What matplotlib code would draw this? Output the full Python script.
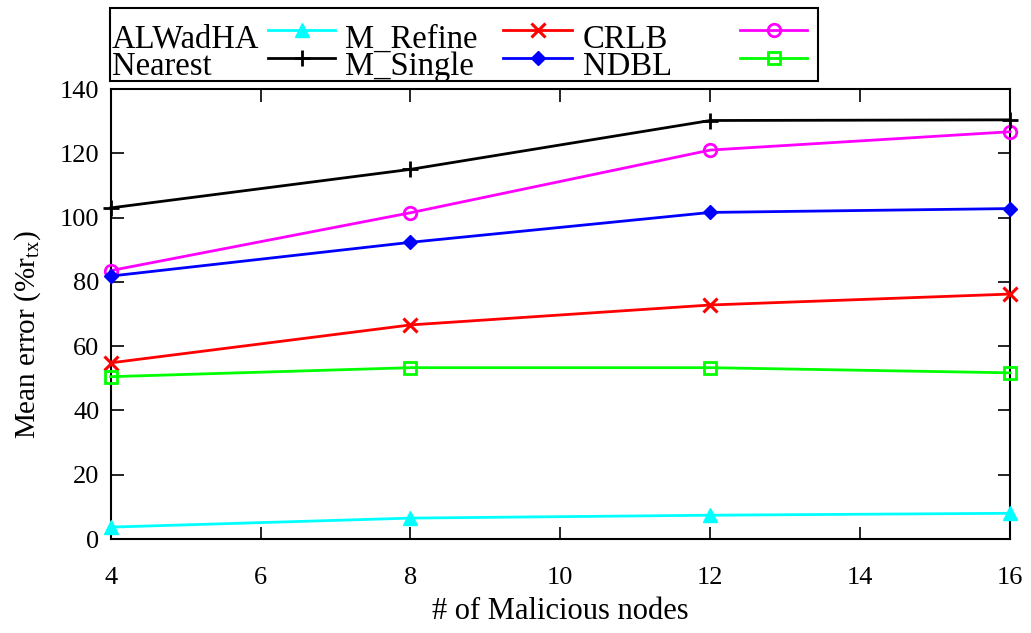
import matplotlib
matplotlib.use('Agg')
import matplotlib.pyplot as plt
from matplotlib.lines import Line2D
import numpy as np

plt.rcParams['font.family'] = ['Liberation Serif', 'DejaVu Serif']
plt.rcParams['mathtext.fontset'] = 'custom'
plt.rcParams['mathtext.rm'] = 'Liberation Serif'

# data
nodes = [4, 8, 12, 16]
m_refine = [3.7, 6.5, 7.4, 8.0]
m_single = [103.0, 115.0, 130.2, 130.4]
crlb = [54.8, 66.6, 72.8, 76.2]
ndbl = [81.8, 92.3, 101.6, 102.8]
alwadha = [83.5, 101.5, 121.0, 126.7]
nearest = [50.5, 53.3, 53.3, 51.7]

xticks = [4, 6, 8, 10, 12, 14, 16]
yticks = [0, 20, 40, 60, 80, 100, 120, 140]

W, H = 1031, 633
fig = plt.figure(figsize=(W / 100, H / 100), dpi=100)
ax = fig.add_axes([110.7 / W, 1 - 539 / H, (1010 - 110.7) / W, (539 - 89) / H])

lw = 2.0
styles = [
    (m_refine, 'cyan', '^', dict(ms=10)),
    (crlb, 'red', 'x', dict(ms=10, mew=2.2)),
    (alwadha, 'magenta', 'o', dict(ms=9, mfc='none', mew=2)),
    (m_single, 'black', '+', dict(ms=12, mew=2)),
    (ndbl, 'blue', 'D', dict(ms=7)),
    (nearest, '#00ff00', 's', dict(ms=9, mfc='none', mew=2)),
]
for yy, cc, mk, kw in styles:
    ax.plot(nodes, yy, color=cc, lw=lw, marker=mk, clip_on=False, zorder=3, **kw)

ax.set_xlim(4, 16)
ax.set_ylim(0, 140)
ax.set_xticks(xticks)
ax.set_yticks(yticks)
ax.tick_params(direction='in', top=True, right=True, length=9, width=1.2,
               labelsize=19)
ax.tick_params(axis='x', pad=20)
ax.tick_params(axis='y', pad=8)
for s in ax.spines.values():
    s.set_linewidth(1.5)
ax.set_xlabel('# of Malicious nodes', fontsize=22, labelpad=6)
ax.set_ylabel(r'Mean error (%r$_{\mathrm{tx}}$)', fontsize=21)
ax.yaxis.set_label_coords(-0.075, 0.455)

# gnuplot style key drawn above the axes
def fx(px):
    return px / W

def fy(py):
    return 1 - py / H

box = plt.Rectangle((fx(110), fy(81)), fx(818) - fx(110), fy(8) - fy(81),
                    transform=fig.transFigure, fill=False, lw=1.5, ec='black')
fig.patches.append(box)

labels = ['ALWadHA', 'M_Refine', 'CRLB', 'Nearest', 'M_Single', 'NDBL']
text_x = [112, 345, 583]
samp_x = [(268, 335), (503, 572), (740, 807)]
row_base = [48, 75]
row_line = [30, 58]
for i, lab in enumerate(labels):
    r, c = divmod(i, 3)
    fig.text(fx(text_x[c]), fy(row_base[r]), lab, fontsize=23.5, va='baseline',
             ha='left')
    yy, cc, mk, kw = styles[i]
    x0, x1 = samp_x[c]
    fig.lines.append(Line2D([fx(x0), fx(x1)], [fy(row_line[r])] * 2,
                            transform=fig.transFigure, color=cc, lw=lw))
    fig.lines.append(Line2D([fx((x0 + x1) / 2)], [fy(row_line[r])],
                            transform=fig.transFigure, color=cc, marker=mk,
                            lw=0, **kw))

fig.savefig('out.png', dpi=100)
